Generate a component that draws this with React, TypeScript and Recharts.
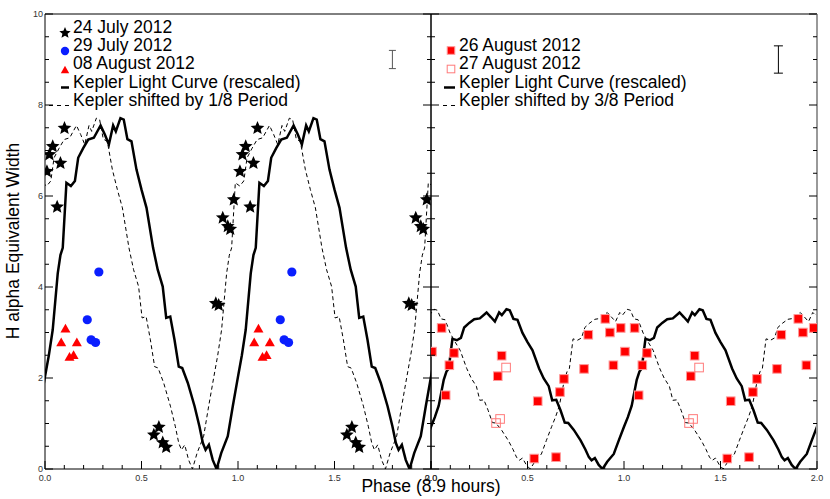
import React from 'react';
import {
  ComposedChart,
  Line,
  Scatter,
  XAxis,
  YAxis,
  ErrorBar,
  Legend,
} from 'recharts';

const FONT = '"Liberation Sans", Arial, Helvetica, sans-serif';

// Kepler light curve over one period
const lcPhase = [
  0, 0.02, 0.04, 0.066, 0.08, 0.092, 0.111, 0.134, 0.155, 0.172, 0.198, 0.224,
  0.253, 0.288, 0.31, 0.331, 0.353, 0.367, 0.391, 0.408, 0.427, 0.448, 0.474,
  0.5, 0.526, 0.56, 0.584, 0.61, 0.628, 0.649, 0.671, 0.693, 0.711, 0.74, 0.775,
  0.8, 0.818, 0.832, 0.849, 0.869, 0.889, 0.913, 0.947, 0.973,
];
// rescaled for the July / early August panel
const lcLeftEw = [
  2.03, 2.5, 3.06, 4.3, 4.7, 4.86, 6.29, 6.22, 6.33, 6.84, 7.05, 7.24, 7.28,
  7.55, 7.35, 7.13, 7.55, 7.42, 7.71, 7.68, 7.25, 7.2, 6.58, 6.14, 5.74, 4.86,
  4.38, 4.01, 3.32, 3.35, 2.84, 2.25, 2.22, 1.89, 1.38, 0.94, 0.57, 0.42, 0.53,
  0.2, 0, 0.35, 0.72, 1.38,
];
// rescaled for the late August panel
const lcRightEw = [
  0.93, 1.14, 1.39, 1.96, 2.14, 2.21, 2.86, 2.83, 2.88, 3.11, 3.21, 3.29, 3.31,
  3.44, 3.34, 3.24, 3.44, 3.38, 3.51, 3.49, 3.3, 3.28, 2.99, 2.79, 2.61, 2.21,
  1.99, 1.82, 1.51, 1.52, 1.29, 1.02, 1.01, 0.86, 0.63, 0.43, 0.26, 0.19, 0.24,
  0.09, 0, 0.16, 0.33, 0.63,
];

// H alpha EW measurements
const jul24Phase = [0.01, 0.023, 0.04, 0.063, 0.08, 0.101, 0.564, 0.59, 0.61, 0.628, 0.885, 0.9, 0.921, 0.947, 0.96, 0.978];
const jul24Ew = [6.54, 6.91, 7.09, 5.76, 6.72, 7.49, 0.75, 0.92, 0.58, 0.48, 3.64, 3.6, 5.52, 5.33, 5.27, 5.92];
const jul29Phase = [0.219, 0.239, 0.262, 0.279];
const jul29Ew = [3.28, 2.84, 2.78, 4.33];
const aug08Phase = [0.084, 0.106, 0.127, 0.148, 0.165];
const aug08Ew = [2.78, 3.08, 2.46, 2.5, 2.78];
const aug26Phase = [0.005, 0.055, 0.076, 0.095, 0.119, 0.346, 0.366, 0.535, 0.553, 0.648, 0.668, 0.689, 0.793, 0.815, 0.903, 0.927, 0.945, 0.983];
const aug26Ew = [2.58, 3.1, 1.62, 2.28, 2.55, 2.04, 2.49, 0.23, 1.49, 0.26, 1.69, 1.98, 2.2, 2.95, 3.3, 3.0, 2.28, 3.1];
const aug27Phase = [0.337, 0.358, 0.389];
const aug27Ew = [1.01, 1.1, 2.23];

// typical error bar drawn in the top-right corner of each panel
const errPhase = 1.8;
const errEw = 9;
const errLeft = 0.2;
const errRight = 0.3;

const phaseTicks = [0, 0.1, 0.2, 0.3, 0.4, 0.5, 0.6, 0.7, 0.8, 0.9, 1, 1.1, 1.2, 1.3, 1.4, 1.5, 1.6, 1.7, 1.8, 1.9, 2];
const phaseMajor = [0, 0.5, 1, 1.5, 2];
const ewTicks = [0, 0.5, 1, 1.5, 2, 2.5, 3, 3.5, 4, 4.5, 5, 5.5, 6, 6.5, 7, 7.5, 8, 8.5, 9, 9.5, 10];
const ewMajor = [0, 2, 4, 6, 8, 10];

// light curve repeated across the plotted phase range, shifted back by `shift`
const foldCurve = (values: number[], shift: number) => {
  const pts: { x: number; y: number }[] = [];
  for (let k = -1; k <= 2; k++) {
    lcPhase.forEach((p, i) => {
      const x = p + k - shift;
      if (x > -0.15 && x < 2.15) pts.push({ x, y: values[i] });
    });
  }
  return pts;
};

// every measurement is shown at phase and phase + 1
const twoCycles = (phase: number[], ew: number[]) => [
  ...phase.map((p, i) => ({ x: p, y: ew[i] })),
  ...phase.map((p, i) => ({ x: p + 1, y: ew[i] })),
];

const isIn = (arr: number[], v: number) => arr.some((a) => Math.abs(a - v) < 1e-6);

const BottomTick = ({ x, y, payload }: any) => {
  const major = isIn(phaseMajor, payload.value);
  return (
    <g>
      <line x1={x} x2={x} y1={y} y2={y - (major ? 8 : 4)} stroke="#000" />
      {major && (
        <text x={x} y={y + 12} textAnchor="middle" fontSize={9} fill="#333" fontFamily={FONT}>
          {payload.value.toFixed(1)}
        </text>
      )}
    </g>
  );
};

const TopTick = ({ x, y, payload }: any) => {
  const major = isIn(phaseMajor, payload.value);
  return <line x1={x} x2={x} y1={y} y2={y + (major ? 8 : 4)} stroke="#000" />;
};

const LeftTick = ({ x, y, payload, labels }: any) => {
  const major = isIn(ewMajor, payload.value);
  return (
    <g>
      <line x1={x} x2={x + (major ? 8 : 4)} y1={y} y2={y} stroke="#000" />
      {labels && major && (
        <text x={x - 2} y={y + 3} textAnchor="end" fontSize={9} fill="#333" fontFamily={FONT}>
          {payload.value}
        </text>
      )}
    </g>
  );
};

const RightTick = ({ x, y, payload }: any) => {
  const major = isIn(ewMajor, payload.value);
  return <line x1={x} x2={x - (major ? 8 : 4)} y1={y} y2={y} stroke="#000" />;
};

const StarMark = ({ cx, cy, rad = 7.2 }: { cx: number; cy: number; rad?: number }) => {
  const pts: string[] = [];
  for (let i = 0; i < 10; i++) {
    const a = -Math.PI / 2 + (i * Math.PI) / 5;
    const r = i % 2 === 0 ? rad : rad * 0.45;
    pts.push(`${cx + r * Math.cos(a)},${cy + r * Math.sin(a)}`);
  }
  return <polygon points={pts.join(' ')} fill="#000" />;
};

const DotMark = ({ cx, cy, rad = 4.6 }: { cx: number; cy: number; rad?: number }) => (
  <circle cx={cx} cy={cy} r={rad} fill="#0a1eff" />
);

const TriMark = ({ cx, cy, rad = 5 }: { cx: number; cy: number; rad?: number }) => (
  <polygon
    points={`${cx},${cy - rad} ${cx + rad},${cy + rad * 0.75} ${cx - rad},${cy + rad * 0.75}`}
    fill="#ff0000"
  />
);

const SquareMark = ({ cx, cy, rad = 4.3, open = false }: { cx: number; cy: number; rad?: number; open?: boolean }) => (
  <rect
    x={cx - rad}
    y={cy - rad}
    width={rad * 2}
    height={rad * 2}
    fill={open ? 'none' : '#ff0000'}
    stroke={open ? '#ff7a7a' : '#ff9a9a'}
    strokeWidth={1}
  />
);

const legendText = (x: number, y: number, s: string) => (
  <text x={x} y={y} fontSize={17.5} fill="#000" fontFamily={FONT}>
    {s}
  </text>
);

const LeftLegend = () => (
  <svg width={340} height={115} style={{ display: 'block', overflow: 'visible' }}>
    <StarMark cx={65} cy={33} rad={6} />
    {legendText(73, 33, '24 July 2012')}
    <DotMark cx={65} cy={51} rad={4.2} />
    {legendText(73, 51.2, '29 July 2012')}
    <TriMark cx={65} cy={70} rad={4.2} />
    {legendText(73, 69.4, '08 August 2012')}
    <line x1={61} x2={69} y1={87.5} y2={87.5} stroke="#000" strokeWidth={2.5} />
    {legendText(73, 87.6, 'Kepler Light Curve (rescaled)')}
    <line x1={49} x2={69} y1={105.5} y2={105.5} stroke="#000" strokeWidth={1} strokeDasharray="4 4" />
    {legendText(73, 105.8, 'Kepler shifted by 1/8 Period')}
  </svg>
);

const RightLegend = () => (
  <svg width={720} height={115} style={{ display: 'block', overflow: 'visible' }}>
    <SquareMark cx={451} cy={50.5} rad={3.8} />
    {legendText(459, 51.2, '26 August 2012')}
    <SquareMark cx={451} cy={69} rad={3.8} open />
    {legendText(459, 69.4, '27 August 2012')}
    <line x1={444} x2={455} y1={87.5} y2={87.5} stroke="#000" strokeWidth={2.5} />
    {legendText(459, 87.6, 'Kepler Light Curve (rescaled)')}
    <line x1={443} x2={455} y1={105.5} y2={105.5} stroke="#000" strokeWidth={1} strokeDasharray="4 4" />
    {legendText(459, 105.8, 'Kepler shifted by 3/8 Period')}
  </svg>
);

// frame of one panel: ticks on all four sides pointing inward
const frameAxes = (
  leftWidth: number,
  rightWidth: number,
  labelY: boolean,
  rightStroke: string,
  rightStrokeWidth: number,
) => [
  <XAxis
    key="xb"
    xAxisId="b"
    dataKey="x"
    type="number"
    domain={[0, 2]}
    allowDataOverflow
    ticks={phaseTicks}
    interval={0}
    tickLine={false}
    tickSize={0}
    tickMargin={0}
    height={30}
    axisLine={{ stroke: '#000' }}
    tick={<BottomTick />}
  />,
  <XAxis
    key="xt"
    xAxisId="t"
    orientation="top"
    type="number"
    domain={[0, 2]}
    allowDataOverflow
    ticks={phaseTicks}
    interval={0}
    tickLine={false}
    tickSize={0}
    tickMargin={0}
    height={14}
    axisLine={{ stroke: '#000' }}
    tick={<TopTick />}
  />,
  <YAxis
    key="yl"
    yAxisId="l"
    dataKey="y"
    type="number"
    domain={[0, 10]}
    allowDataOverflow
    ticks={ewTicks}
    interval={0}
    tickLine={false}
    tickSize={0}
    tickMargin={0}
    width={leftWidth}
    axisLine={{ stroke: '#000' }}
    tick={<LeftTick labels={labelY} />}
  />,
  <YAxis
    key="yr"
    yAxisId="r"
    orientation="right"
    type="number"
    domain={[0, 10]}
    allowDataOverflow
    ticks={ewTicks}
    interval={0}
    tickLine={false}
    tickSize={0}
    tickMargin={0}
    width={rightWidth}
    axisLine={{ stroke: rightStroke, strokeWidth: rightStrokeWidth }}
    tick={<RightTick />}
  />,
];

const legendWrap = { left: 0, top: 0, width: 760, height: 115 };
const noMargin = { top: 0, bottom: 0, left: 0, right: 0 };

export default function App() {
  return (
    <div
      style={{
        position: 'absolute',
        left: 0,
        top: 0,
        width: 830,
        height: 499,
        background: '#fff',
        fontFamily: FONT,
      }}
    >
      {/* left panel: July / early August */}
      <div style={{ position: 'absolute', left: 0, top: 0 }}>
        <ComposedChart width={830} height={499} margin={noMargin}>
          {frameAxes(45, 399, true, '#000', 1)}
          <Legend
            layout="vertical"
            align="center"
            verticalAlign="middle"
            wrapperStyle={legendWrap}
            content={() => <LeftLegend />}
          />
          <Line
            data={foldCurve(lcLeftEw, 0)}
            xAxisId="b"
            yAxisId="l"
            dataKey="y"
            type="linear"
            stroke="#000"
            strokeWidth={2.5}
            dot={false}
            isAnimationActive={false}
          />
          <Line
            data={foldCurve(lcLeftEw, 1 / 8)}
            xAxisId="b"
            yAxisId="l"
            dataKey="y"
            type="linear"
            stroke="#000"
            strokeWidth={1}
            strokeDasharray="4 3"
            dot={false}
            isAnimationActive={false}
          />
          <Scatter
            data={twoCycles(jul24Phase, jul24Ew)}
            xAxisId="b"
            yAxisId="l"
            shape={(p: any) => <StarMark cx={p.cx} cy={p.cy} />}
            isAnimationActive={false}
          />
          <Scatter
            data={twoCycles(jul29Phase, jul29Ew)}
            xAxisId="b"
            yAxisId="l"
            shape={(p: any) => <DotMark cx={p.cx} cy={p.cy} />}
            isAnimationActive={false}
          />
          <Scatter
            data={twoCycles(aug08Phase, aug08Ew)}
            xAxisId="b"
            yAxisId="l"
            shape={(p: any) => <TriMark cx={p.cx} cy={p.cy} />}
            isAnimationActive={false}
          />
          <Scatter
            data={[{ x: errPhase, y: errEw, err: errLeft }]}
            xAxisId="b"
            yAxisId="l"
            shape={() => <g />}
            isAnimationActive={false}
          >
            <ErrorBar dataKey="err" direction="y" width={3.5} stroke="#555" strokeWidth={1} isAnimationActive={false} />
          </Scatter>
        </ComposedChart>
      </div>

      {/* right panel: late August */}
      <div style={{ position: 'absolute', left: 0, top: 0 }}>
        <ComposedChart width={830} height={499} margin={noMargin}>
          {frameAxes(431, 13, false, '#999', 2)}
          <Legend
            layout="vertical"
            align="center"
            verticalAlign="middle"
            wrapperStyle={legendWrap}
            content={() => <RightLegend />}
          />
          <Line
            data={foldCurve(lcRightEw, 0)}
            xAxisId="b"
            yAxisId="l"
            dataKey="y"
            type="linear"
            stroke="#000"
            strokeWidth={2.5}
            dot={false}
            isAnimationActive={false}
          />
          <Line
            data={foldCurve(lcRightEw, 3 / 8)}
            xAxisId="b"
            yAxisId="l"
            dataKey="y"
            type="linear"
            stroke="#000"
            strokeWidth={1}
            strokeDasharray="4 3"
            dot={false}
            isAnimationActive={false}
          />
          <Scatter
            data={twoCycles(aug26Phase, aug26Ew)}
            xAxisId="b"
            yAxisId="l"
            shape={(p: any) => <SquareMark cx={p.cx} cy={p.cy} />}
            isAnimationActive={false}
          />
          <Scatter
            data={twoCycles(aug27Phase, aug27Ew)}
            xAxisId="b"
            yAxisId="l"
            shape={(p: any) => <SquareMark cx={p.cx} cy={p.cy} open />}
            isAnimationActive={false}
          />
          <Scatter
            data={[{ x: errPhase, y: errEw, err: errRight }]}
            xAxisId="b"
            yAxisId="l"
            shape={() => <g />}
            isAnimationActive={false}
          >
            <ErrorBar dataKey="err" direction="y" width={4.5} stroke="#000" strokeWidth={1} isAnimationActive={false} />
          </Scatter>
        </ComposedChart>
      </div>

      {/* axis titles shared by both panels */}
      <svg
        width={830}
        height={499}
        style={{ position: 'absolute', left: 0, top: 0, pointerEvents: 'none' }}
      >
        <text
          transform="translate(19, 241) rotate(-90)"
          textAnchor="middle"
          fontSize={17.5}
          fill="#000"
          fontFamily={FONT}
        >
          H alpha Equivalent Width
        </text>
        <text x={431} y={492} textAnchor="middle" fontSize={17.5} fill="#000" fontFamily={FONT}>
          Phase (8.9 hours)
        </text>
      </svg>
    </div>
  );
}
